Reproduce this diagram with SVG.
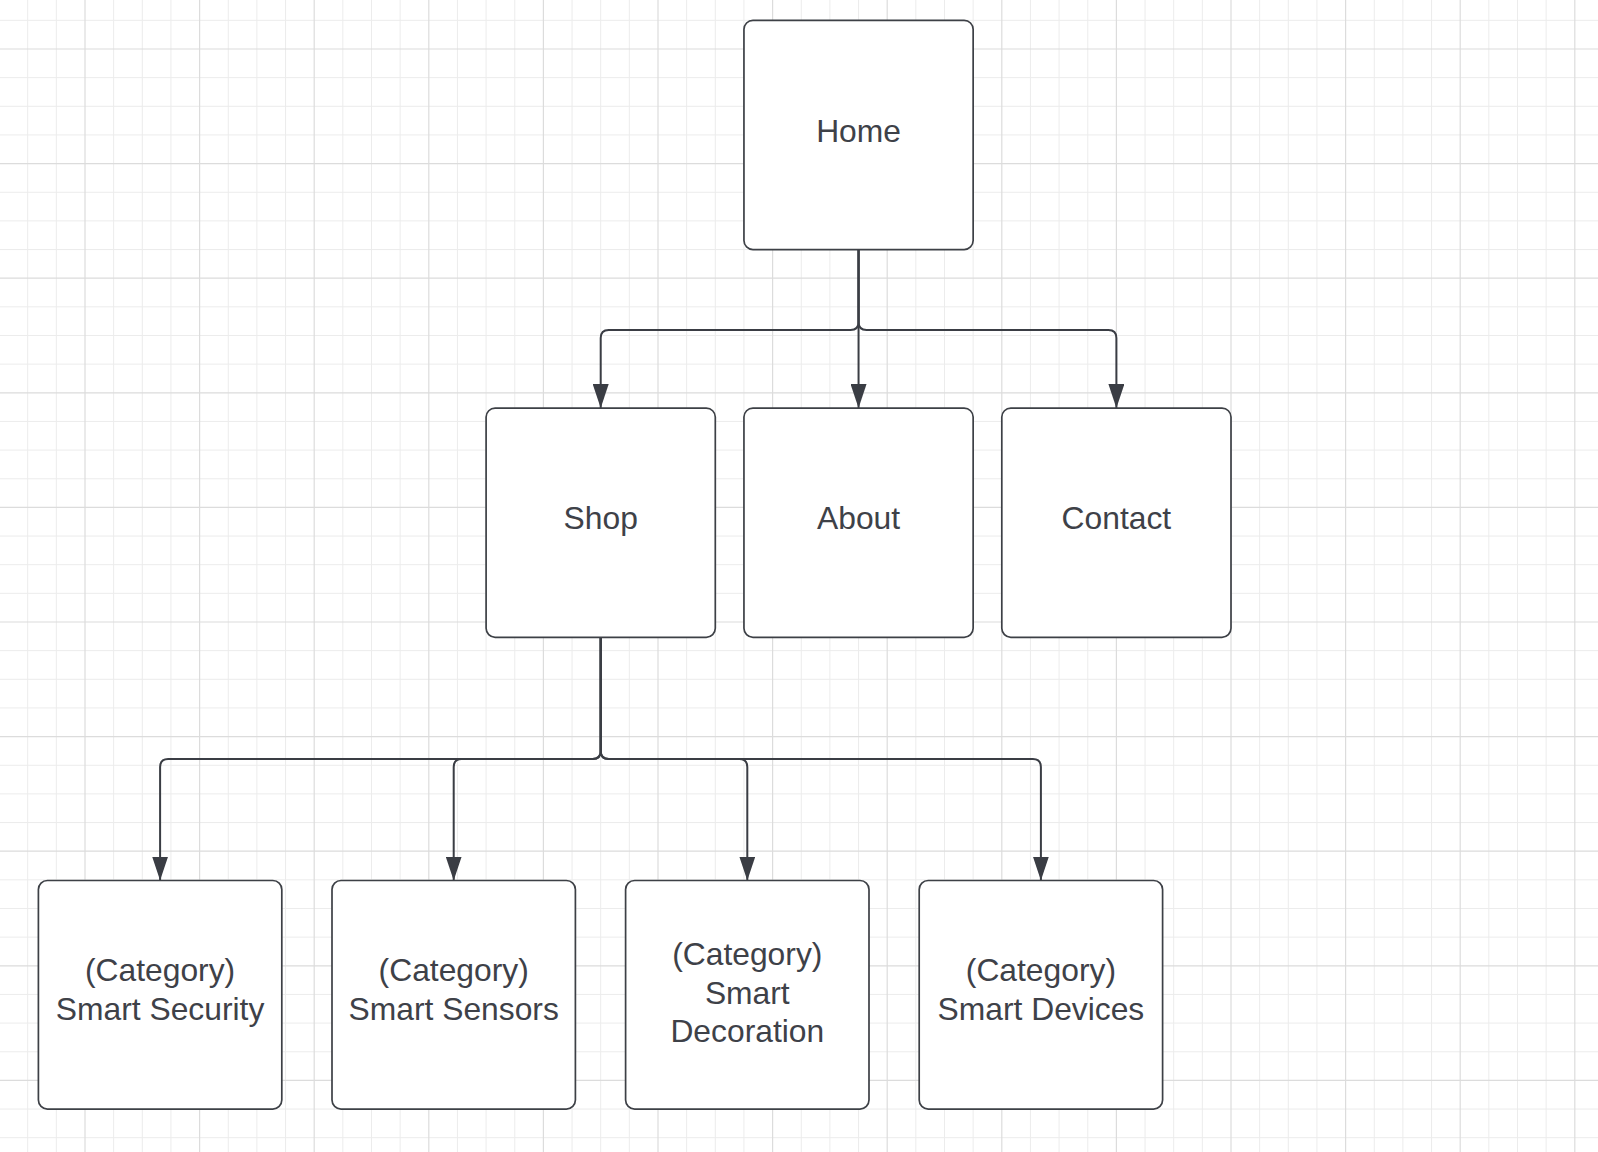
<svg xmlns="http://www.w3.org/2000/svg" width="1598" height="1152" viewBox="0 0 1598 1152">
<defs>
<style>
.minor{stroke:#ececec;stroke-width:1;fill:none}
.major{stroke:#dcdcdc;stroke-width:1.2;fill:none}
.box{fill:#ffffff;stroke:#3d4046;stroke-width:1.7}
.lbl{font-family:"Liberation Sans",Arial,sans-serif;font-size:31.8px;fill:#3e4148;text-anchor:middle}
.conn{fill:none;stroke:#3a3d44;stroke-width:2}
</style>
<marker id="arr" viewBox="0 0 24 16" refX="24" refY="8" markerWidth="24" markerHeight="16" markerUnits="userSpaceOnUse" orient="auto">
<path d="M0,0 L24,8 L0,16 Z" fill="#3a3d44"/>
</marker>
</defs>
<rect x="0" y="0" width="1598" height="1152" fill="#ffffff"/>
<g id="grid">
<path class="minor" d="M27.7 0V1152M56.35 0V1152M113.65 0V1152M142.3 0V1152M170.95 0V1152M228.25 0V1152M256.9 0V1152M285.55 0V1152M342.85 0V1152M371.5 0V1152M400.15 0V1152M457.45 0V1152M486.1 0V1152M514.75 0V1152M572.05 0V1152M600.7 0V1152M629.35 0V1152M686.65 0V1152M715.3 0V1152M743.95 0V1152M801.25 0V1152M829.9 0V1152M858.55 0V1152M915.85 0V1152M944.5 0V1152M973.15 0V1152M1030.45 0V1152M1059.1 0V1152M1087.75 0V1152M1145.05 0V1152M1173.7 0V1152M1202.35 0V1152M1259.65 0V1152M1288.3 0V1152M1316.95 0V1152M1374.25 0V1152M1402.9 0V1152M1431.55 0V1152M1488.85 0V1152M1517.5 0V1152M1546.15 0V1152
M0 20.35H1598M0 77.65H1598M0 106.3H1598M0 134.95H1598M0 192.25H1598M0 220.9H1598M0 249.55H1598M0 306.85H1598M0 335.5H1598M0 364.15H1598M0 421.45H1598M0 450.1H1598M0 478.75H1598M0 536.05H1598M0 564.7H1598M0 593.35H1598M0 650.65H1598M0 679.3H1598M0 707.95H1598M0 765.25H1598M0 793.9H1598M0 822.55H1598M0 879.85H1598M0 908.5H1598M0 937.15H1598M0 994.45H1598M0 1023.1H1598M0 1051.75H1598M0 1109.05H1598M0 1137.7H1598"/>
<path class="major" d="M85 0V1152M199.6 0V1152M314.2 0V1152M428.8 0V1152M543.4 0V1152M658 0V1152M772.6 0V1152M887.2 0V1152M1001.8 0V1152M1116.4 0V1152M1231 0V1152M1345.6 0V1152M1460.2 0V1152M1574.8 0V1152
M0 49H1598M0 163.6H1598M0 278.2H1598M0 392.8H1598M0 507.4H1598M0 622H1598M0 736.6H1598M0 851.2H1598M0 965.8H1598M0 1080.4H1598"/>
</g>
<g id="connectors">
<path class="conn" marker-end="url(#arr)" d="M858.55,249.55 V322 Q858.55,330 850.55,330 H608.7 Q600.7,330 600.7,338 V408.1"/>
<path class="conn" marker-end="url(#arr)" d="M858.55,249.55 V408.1"/>
<path class="conn" marker-end="url(#arr)" d="M858.55,249.55 V322 Q858.55,330 866.55,330 H1108.4 Q1116.4,330 1116.4,338 V408.1"/>
<path class="conn" marker-end="url(#arr)" d="M600.7,637.3 V751 Q600.7,759 592.7,759 H168.1 Q160.1,759 160.1,767 V880.5"/>
<path class="conn" marker-end="url(#arr)" d="M600.7,637.3 V751 Q600.7,759 592.7,759 H461.7 Q453.7,759 453.7,767 V880.5"/>
<path class="conn" marker-end="url(#arr)" d="M600.7,637.3 V751 Q600.7,759 608.7,759 H739.3 Q747.3,759 747.3,767 V880.5"/>
<path class="conn" marker-end="url(#arr)" d="M600.7,637.3 V751 Q600.7,759 608.7,759 H1032.9 Q1040.9,759 1040.9,767 V880.5"/>
</g>
<g id="node-home">
<rect class="box" x="743.95" y="20.35" width="229.2" height="229.2" rx="9"/>
<text class="lbl" x="858.55" y="141.6">Home</text>
</g>
<g id="node-shop">
<rect class="box" x="486.1" y="408.1" width="229.2" height="229.2" rx="9"/>
<text class="lbl" x="600.7" y="529.2">Shop</text>
</g>
<g id="node-about">
<rect class="box" x="743.95" y="408.1" width="229.2" height="229.2" rx="9"/>
<text class="lbl" x="858.55" y="529.2">About</text>
</g>
<g id="node-contact">
<rect class="box" x="1001.8" y="408.1" width="229.2" height="229.2" rx="9"/>
<text class="lbl" x="1116.4" y="529.2">Contact</text>
</g>
<g id="node-smart-security">
<rect class="box" x="38.4" y="880.5" width="243.4" height="228.6" rx="9"/>
<text class="lbl" x="160.1" y="981">(Category)</text>
<text class="lbl" x="160.1" y="1019.6">Smart Security</text>
</g>
<g id="node-smart-sensors">
<rect class="box" x="332" y="880.5" width="243.4" height="228.6" rx="9"/>
<text class="lbl" x="453.7" y="981">(Category)</text>
<text class="lbl" x="453.7" y="1019.6">Smart Sensors</text>
</g>
<g id="node-smart-decoration">
<rect class="box" x="625.6" y="880.5" width="243.4" height="228.6" rx="9"/>
<text class="lbl" x="747.3" y="965">(Category)</text>
<text class="lbl" x="747.3" y="1003.5">Smart</text>
<text class="lbl" x="747.3" y="1042">Decoration</text>
</g>
<g id="node-smart-devices">
<rect class="box" x="919.2" y="880.5" width="243.4" height="228.6" rx="9"/>
<text class="lbl" x="1040.9" y="981">(Category)</text>
<text class="lbl" x="1040.9" y="1019.6">Smart Devices</text>
</g>
</svg>
